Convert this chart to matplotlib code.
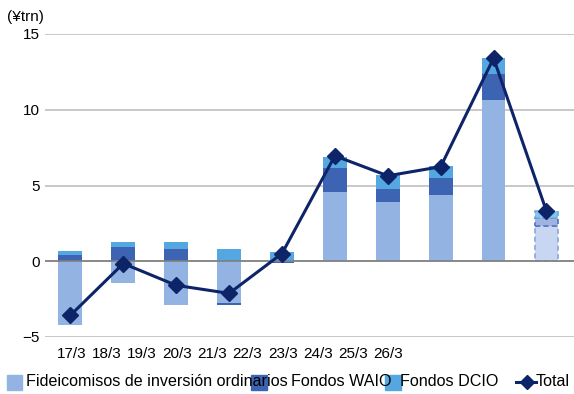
import matplotlib
matplotlib.use("Agg")
import matplotlib.pyplot as plt
from matplotlib.patches import Rectangle
from matplotlib.lines import Line2D
import numpy as np

plt.rcParams['font.family'] = ['Liberation Sans', 'DejaVu Sans']

# Fiscal years (March year-end); last one is a projection
categories = ["17/3", "18/3", "19/3", "20/3", "21/3", "22/3", "23/3", "24/3", "25/3", "26/3"]
ordinary = [-4.23, -1.43, -2.87, -2.78, -0.02, 4.54, 3.92, 4.37, 10.65, 2.35]
waio     = [0.40, 0.95, 0.79, -0.10, -0.08, 1.63, 0.82, 1.10, 1.72, 0.50]
dcio     = [0.26, 0.33, 0.49, 0.78, 0.58, 0.73, 0.95, 0.81, 1.04, 0.45]
total    = [-3.57, -0.15, -1.59, -2.12, 0.51, 6.96, 5.64, 6.24, 13.40, 3.30]
yticks = [-5, 0, 5, 10, 15]

c_ord, c_waio, c_dcio, c_tot = "#93b3e2", "#3d63b3", "#55a7e1", "#0e2468"
f_ord, f_waio, f_dcio = "#c8d6f1", "#9fb2e1", "#86c3ec"

fig = plt.figure(figsize=(5.74, 3.94), dpi=100)
ax = fig.add_axes([45/574, 1-337/394, 529/574, 303/394])

x = np.arange(len(categories))
w = 0.45
n_act = len(categories) - 1

# stack positive and negative parts separately
pos_base = np.zeros(len(x))
neg_base = np.zeros(len(x))
series = [(ordinary, c_ord, f_ord, "#8aa6dc"),
          (waio, c_waio, f_waio, "#5474c0"),
          (dcio, c_dcio, f_dcio, "#6aaee0")]
for vals, col, fcol, ecol in series:
    vals = np.asarray(vals, dtype=float)
    base = np.where(vals >= 0, pos_base, neg_base)
    ax.bar(x[:n_act], vals[:n_act], w, bottom=base[:n_act], color=col,
           linewidth=0, zorder=2)
    ax.bar(x[n_act:], vals[n_act:], w, bottom=base[n_act:], color=fcol,
           edgecolor=ecol, linestyle=(0, (3, 2)), linewidth=1.2, zorder=2)
    pos_base = np.where(vals >= 0, pos_base + vals, pos_base)
    neg_base = np.where(vals < 0, neg_base + vals, neg_base)

ax.plot(x, total, color=c_tot, lw=2.2, marker="D", ms=8.5, zorder=4)

ax.set_xlim(-0.48, 9.52)
ax.set_ylim(-5, 15)
ax.set_yticks(yticks)
ax.yaxis.grid(True, color="#c8c8c8", lw=1.4, zorder=0)
ax.axhline(0, color="#7f7f7f", lw=1.2, zorder=3)
ax.set_axisbelow(True)
for s in ax.spines.values():
    s.set_visible(False)
ax.tick_params(axis="y", length=0, pad=4, labelsize=11)
ax.tick_params(axis="x", length=0, pad=7, labelsize=11)

# category labels run tightly packed from the left
ax.set_xticks(0.023 + 0.665 * np.arange(len(categories)))
ax.set_xticklabels(categories)

fig.text(7/574, 1-17/394, "(¥trn)", fontsize=11, va="center", ha="left")

# legend row
ly = 1 - 382/394
lfs = 11.6
fig.patches.append(Rectangle((7/574, 1-390/394), 15/574, 15/394,
                             transform=fig.transFigure, color=c_ord))
fig.patches.append(Rectangle((251/574, 1-390/394), 16/574, 15/394,
                             transform=fig.transFigure, color=c_waio))
fig.patches.append(Rectangle((385/574, 1-390/394), 16/574, 15/394,
                             transform=fig.transFigure, color=c_dcio))
fig.text(26/574, ly, "Fideicomisos de inversión ordinarios", fontsize=lfs, va="center", zorder=5)
fig.text(291/574, ly, "Fondos WAIO", fontsize=lfs, va="center", zorder=5)
fig.text(400/574, ly, "Fondos DCIO", fontsize=lfs, va="center", zorder=5)
fig.lines.append(Line2D([516/574, 536/574], [ly, ly], transform=fig.transFigure,
                        color=c_tot, lw=2.2))
fig.lines.append(Line2D([527/574], [ly], transform=fig.transFigure,
                        color=c_tot, marker="D", ms=7.5, lw=0))
fig.text(536/574, ly, "Total", fontsize=lfs, va="center")

fig.savefig("out.png", dpi=100)
